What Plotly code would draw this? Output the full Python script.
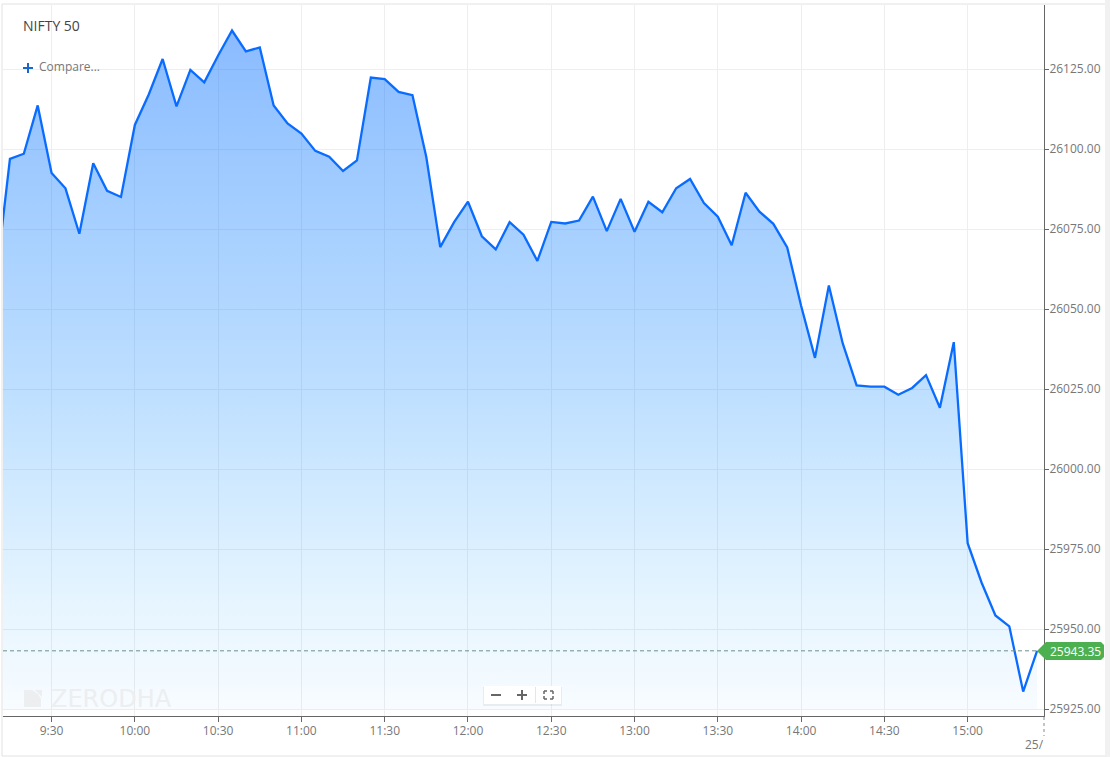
import plotly.graph_objects as go
import pandas as pd

# 5 minute closes, 09:10 to 15:25
nifty_close = [
    26059.7, 26097.1, 26098.7, 26113.8, 26092.7, 26087.9, 26073.7, 26095.7,
    26087.1, 26085.2, 26107.7, 26117.2, 26128.3, 26113.5, 26124.9, 26121.0,
    26129.4, 26137.2, 26130.7, 26131.9, 26113.8, 26108.2, 26105.0, 26099.6,
    26097.8, 26093.3, 26096.6, 26122.5, 26122.0, 26118.0, 26117.0, 26097.6,
    26069.5, 26077.3, 26083.7, 26072.9, 26068.8, 26077.3, 26073.4, 26065.2,
    26077.4, 26076.9, 26077.8, 26085.3, 26074.5, 26084.6, 26074.3, 26083.7,
    26080.4, 26087.9, 26090.8, 26083.3, 26079.0, 26070.1, 26086.5, 26080.6,
    26076.8, 26069.4, 26051.2, 26034.9, 26057.5, 26039.4, 26026.3, 26025.9,
    26025.9, 26023.4, 26025.5, 26029.5, 26019.3, 26039.8, 25977.0, 25964.7,
    25954.4, 25951.0, 25930.6, 25943.35,
]
times = pd.date_range('2025-11-24 09:10', periods=len(nifty_close), freq='5min')

tick_times = pd.date_range('2025-11-24 09:30', '2025-11-24 15:00', freq='30min')
tick_labels = ['9:30', '10:00', '10:30', '11:00', '11:30', '12:00', '12:30',
               '13:00', '13:30', '14:00', '14:30', '15:00']

last_price = 25943.35
base_price = 25925

LEFT, RIGHT, TOP, BOTTOM = 3, 1044, 5, 716
GREY = '#777777'
FONT = 'Open Sans'


def px_x(x):
    return (x - LEFT) / (RIGHT - LEFT)


def px_y(y):
    return (BOTTOM - y) / (BOTTOM - TOP)


def box(x0, y0, x1, y1, fill, line=None, layer='above'):
    return dict(type='rect', xref='paper', yref='paper', layer=layer,
                x0=px_x(x0), x1=px_x(x1), y0=px_y(y0), y1=px_y(y1),
                fillcolor=fill, line=dict(width=0) if line is None else line)


def seg(x0, y0, x1, y1, color, width=1, dash='solid'):
    return dict(type='line', xref='paper', yref='paper', layer='above',
                x0=px_x(x0), x1=px_x(x1), y0=px_y(y0), y1=px_y(y1),
                line=dict(color=color, width=width, dash=dash))


def poly(points, fill):
    path = 'M ' + ' L '.join(f'{px_x(x):.5f},{px_y(y):.5f}' for x, y in points) + ' Z'
    return dict(type='path', xref='paper', yref='paper', layer='above',
                path=path, fillcolor=fill, line=dict(width=0))


def label(x, y, text, size=12, color=GREY, anchor='left', family=FONT):
    return dict(xref='paper', yref='paper', x=px_x(x), y=px_y(y), text=text,
                showarrow=False, xanchor=anchor, yanchor='middle',
                font=dict(family=family, size=size, color=color))


fig = go.Figure()

# invisible floor so the area stops at the last gridline
fig.add_trace(go.Scatter(
    x=[times[0], times[-1]],
    y=[base_price, base_price],
    mode='lines',
    line=dict(width=0),
    hoverinfo='skip',
    showlegend=False,
))

fig.add_trace(go.Scatter(
    x=times,
    y=nifty_close,
    name='NIFTY 50',
    mode='lines',
    line=dict(color='#0a6cff', width=2.3),
    fill='tonexty',
    fillgradient=dict(
        type='vertical',
        start=base_price,
        stop=26137,
        colorscale=[
            [0, 'rgba(0,155,255,0.03)'],
            [0.16, 'rgba(0,150,255,0.10)'],
            [0.455, 'rgba(0,130,255,0.25)'],
            [1, 'rgba(0,107,255,0.46)'],
        ],
    ),
    showlegend=False,
))

shapes = [
    # page frame
    seg(2, 4, 2, 756, '#e2e2e2', 1),
    seg(2, 4, 1105, 4, '#e2e2e2', 1),
    seg(2, 756, 1105, 756, '#e2e2e2', 1),
    box(1105, 0, 1110, 757, '#f1f1f1'),
    # last price line and flag
    dict(type='line', xref='paper', yref='y', layer='above', x0=0, x1=px_x(1037),
         y0=last_price, y1=last_price,
         line=dict(color='#6f8f8a', width=1, dash='4px,3px')),
    poly([(1037, 651), (1046, 642), (1101, 642), (1104, 645), (1104, 657),
          (1101, 660), (1046, 660)], '#4caf50'),
    # dotted stub above the date label
    seg(1044, 717, 1044, 736, '#888888', 1, 'dot'),
    # compare plus
    seg(23, 68, 33, 68, '#1a66d0', 2),
    seg(28, 63, 28, 73, '#1a66d0', 2),
    # watermark logo
    poly([(24, 690), (32, 690), (38, 694), (41, 699), (41, 707), (24, 707)], '#eceef0'),
    poly([(35, 690), (42, 690), (42, 697)], '#eceef0'),
    # zoom control
    box(483, 687, 562, 706, 'rgba(0,0,0,0.06)'),
    box(484, 686, 561, 704, '#ffffff'),
    seg(491, 695, 501, 695, '#666666', 2),
    seg(517, 695, 527, 695, '#666666', 2),
    seg(522, 690, 522, 700, '#666666', 2),
    seg(535.5, 687, 535.5, 703, '#e6e6e6', 1),
    seg(544, 691, 547, 691, '#666666', 1.5), seg(544, 691, 544, 694, '#666666', 1.5),
    seg(550, 691, 553, 691, '#666666', 1.5), seg(553, 691, 553, 694, '#666666', 1.5),
    seg(544, 699, 547, 699, '#666666', 1.5), seg(544, 696, 544, 699, '#666666', 1.5),
    seg(550, 699, 553, 699, '#666666', 1.5), seg(553, 696, 553, 699, '#666666', 1.5),
]

annotations = [
    label(21, 26, 'NIFTY 50', size=14, color='#444444'),
    label(37, 67, 'Compare...', size=12, color='#777777'),
    label(49, 698.5, 'ZERODHA', size=24, color='#eceef0', family='DejaVu Sans'),
    label(1048, 651, '25943.35', size=12, color='#ffffff'),
    label(1046, 744, '25/', size=12, anchor='right'),
]

fig.update_layout(
    width=1110,
    height=757,
    autosize=False,
    margin=dict(l=LEFT, r=1110 - RIGHT, t=TOP, b=757 - BOTTOM),
    paper_bgcolor='white',
    plot_bgcolor='white',
    hovermode=False,
    showlegend=False,
    shapes=shapes,
    annotations=annotations,
    font=dict(family=FONT, size=12, color=GREY),
    xaxis=dict(
        type='date',
        range=['2025-11-24 09:12:30', '2025-11-24 15:27:30'],
        tickvals=tick_times,
        ticktext=tick_labels,
        ticks='outside',
        ticklen=5,
        ticklabelstandoff=-1,
        tickcolor='#666666',
        showline=True,
        linecolor='#666666',
        linewidth=1,
        showgrid=True,
        gridcolor='#eeeeee',
        gridwidth=1,
        zeroline=False,
    ),
    yaxis=dict(
        side='right',
        range=[25922.98, 26145.18],
        tick0=25925,
        dtick=25,
        tickformat='.2f',
        ticks='outside',
        ticklen=4,
        ticklabelstandoff=-2,
        ticklabelshift=-1,
        tickcolor='#666666',
        showline=True,
        linecolor='#666666',
        linewidth=1,
        showgrid=True,
        gridcolor='#eeeeee',
        gridwidth=1,
        zeroline=False,
    ),
)

fig.write_html(
    'out.html',
    config=dict(displayModeBar=False),
    post_script="document.body.style.margin='0';",
)
